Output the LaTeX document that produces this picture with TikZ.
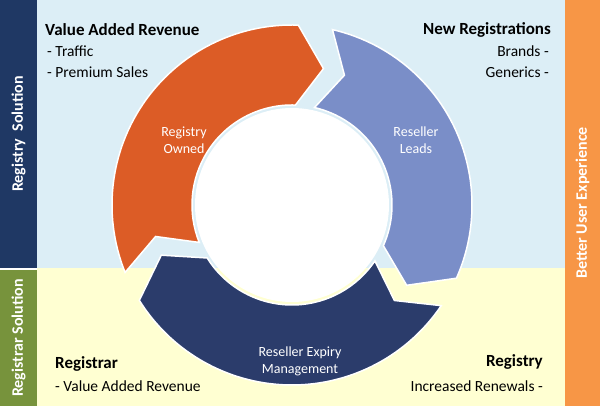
\documentclass[tikz,border=0pt]{standalone}
\usepackage{fontspec}
\setmainfont{Carlito}
\usetikzlibrary{positioning}
\definecolor{barnavy}{HTML}{1F3864}
\definecolor{bargreen}{HTML}{77933C}
\definecolor{barorange}{HTML}{F79646}
\definecolor{skybg}{HTML}{DCEEF6}
\definecolor{creambg}{HTML}{FFFFD2}
\definecolor{segorange}{HTML}{DC5C26}
\definecolor{segblue}{HTML}{7A8EC8}
\definecolor{segnavy}{HTML}{2B3C6B}

% cycle segment: tail angle, head angle
\newcommand{\cycseg}[3]{%
  \fill[#3, draw=white, line width=1.5pt]
    (#1:180) arc[start angle=#1, end angle=#2, radius=180]
    -- ({#2-11}:140) -- (#2:100)
    arc[start angle=#2, end angle=#1, radius=100]
    -- ({#1-9}:140) -- cycle;}

\begin{document}
\begin{tikzpicture}[x=1pt, y=1pt,
    head/.style={font=\bfseries\fontsize{17}{20}\selectfont, inner sep=0pt},
    item/.style={font=\fontsize{15.5}{18}\selectfont, inner sep=0pt},
    seglabel/.style={font=\fontsize{14}{17}\selectfont, text=white, align=center},
    bartext/.style={font=\bfseries\fontsize{16}{19}\selectfont, text=white, rotate=90}]
  \useasboundingbox (0,0) rectangle (600,406);
  % backgrounds
  \fill[skybg] (37,138) rectangle (565,406);
  \fill[creambg] (37,0) rectangle (565,138);
  \fill[barnavy] (0,138) rectangle (37,406);
  \fill[bargreen] (0,0) rectangle (37,136);
  \fill[barorange] (565,0) rectangle (600,406);
  \node[bartext] (regsol) at (18.5,272) {Registry\ \ Solution};
  \node[bartext] (rarsol) at (18.5,68) {Registrar Solution};
  \node[bartext] (better) at (582.5,203) {Better User Experience};
  % cycle
  \begin{scope}[shift={(292,201)}]
    \cycseg{202}{88}{segorange}
    \cycseg{77}{-24}{segblue}
    \cycseg{-34}{-148}{segnavy}
    \fill[white] (0,0) circle[radius=97];
  \end{scope}
  \node[seglabel] (owned) at (184,266) {Registry\\Owned};
  \node[seglabel] (leads) at (416,266) {Reseller\\Leads};
  \node[seglabel] (expiry) at (300,45) {Reseller Expiry\\Management};
  % texts
  \node[head, anchor=west] (var) at (45,376) {Value Added Revenue};
  \node[item, anchor=west] (traffic) at (47,355) {- Traffic};
  \node[item, anchor=west] (premium) at (47,334) {- Premium Sales};
  \node[head, anchor=east] (newreg) at (551,376) {New Registrations};
  \node[item, anchor=east] (brands) at (549,355) {Brands -};
  \node[item, anchor=east] (generics) at (549,334) {Generics -};
  \node[head, anchor=west] (registrar) at (55,42) {Registrar};
  \node[item, anchor=west] (rarvar) at (55,20) {- Value Added Revenue};
  \node[head, anchor=east] (registry) at (543,44) {Registry};
  \node[item, anchor=east] (renewals) at (543,20) {Increased Renewals -};
\end{tikzpicture}
\end{document}
